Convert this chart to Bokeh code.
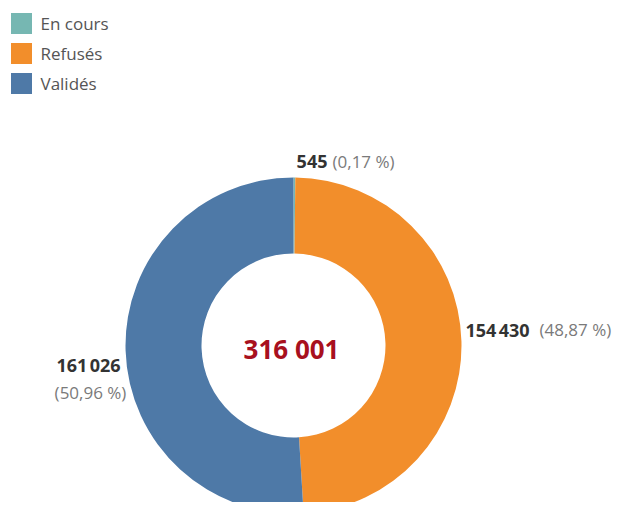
import math
from bokeh.plotting import figure
from bokeh.models import Range1d, ColumnDataSource
from bokeh.core.properties import value
from bokeh.embed import file_html
from bokeh.resources import INLINE

# ---- data ----
categories = ["En cours", "Refusés", "Validés"]
counts = [545, 154430, 161026]
colors = ["#76b7b2", "#f28e2b", "#4e79a7"]

total = sum(counts)

def fmt_num(n, sep="\u202f"):
    return f"{n:,}".replace(",", sep)

def fmt_pct(n):
    return "(" + f"{100 * n / total:.2f}".replace(".", ",") + "\u00a0%)"

W, H = 613, 502
FONT = "Open Sans"

p = figure(width=W, height=H, output_backend="svg", toolbar_location=None,
           x_range=Range1d(0, W), y_range=Range1d(0, H), min_border=0,
           outline_line_color=None, background_fill_color="white")
p.axis.visible = False
p.grid.visible = False

# reference-pixel -> data helpers (y flipped)
def X(px):
    return px

def Y(py):
    return H - py

cx, cy = X(293), Y(345)
R_out, R_in = 168, 92

# wedges: start at 12 o'clock, run clockwise
starts, ends = [], []
acc = 0
for c in counts:
    a0 = acc / total
    acc += c
    a1 = acc / total
    starts.append(math.pi / 2 - a1 * 2 * math.pi)
    ends.append(math.pi / 2 - a0 * 2 * math.pi)

src = ColumnDataSource(dict(cat=categories, start=starts, end=ends, color=colors))
p.annular_wedge(x=cx, y=cy, inner_radius=R_in, outer_radius=R_out,
                inner_radius_units="screen", outer_radius_units="screen",
                start_angle="start", end_angle="end", fill_color="color",
                line_color=None, source=src)

# center total
p.text(x=[cx - 2], y=[Y(348)], text=[fmt_num(total, " ")], text_font=value(FONT),
       text_font_size="26px", text_font_style="bold", text_color="#a8101e",
       text_align="center", text_baseline="middle")

# labels
num_style = dict(text_font=value(FONT), text_font_size="18px", text_font_style="bold",
                 text_color="#333333", text_baseline="middle")
pct_style = dict(text_font=value(FONT), text_font_size="17px",
                 text_color="#7a7a7a", text_baseline="middle")

# En cours (top)
p.text(x=[X(327)], y=[Y(161)], text=[fmt_num(counts[0])], text_align="right", **num_style)
p.text(x=[X(332)], y=[Y(161)], text=[fmt_pct(counts[0])], text_align="left", **pct_style)
# Refusés (right)
p.text(x=[X(465)], y=[Y(329)], text=[fmt_num(counts[1])], text_align="left", **num_style)
p.text(x=[X(539)], y=[Y(329)], text=[fmt_pct(counts[1])], text_align="left", **pct_style)
# Validés (left)
p.text(x=[X(88)], y=[Y(364)], text=[fmt_num(counts[2])], text_align="center", **num_style)
p.text(x=[X(90)], y=[Y(392)], text=[fmt_pct(counts[2])], text_align="center", **pct_style)

# legend (manual)
leg_y = [Y(23), Y(53), Y(83)]
p.scatter(x=[X(21)] * 3, y=leg_y, marker="square", size=21, fill_color=colors,
          line_color=None)
p.text(x=[X(40)] * 3, y=leg_y, text=categories, text_font=value(FONT),
       text_font_size="17px", text_color="#555555", text_align="left",
       text_baseline="middle")

open("out.html", "w").write(file_html(p, INLINE))
